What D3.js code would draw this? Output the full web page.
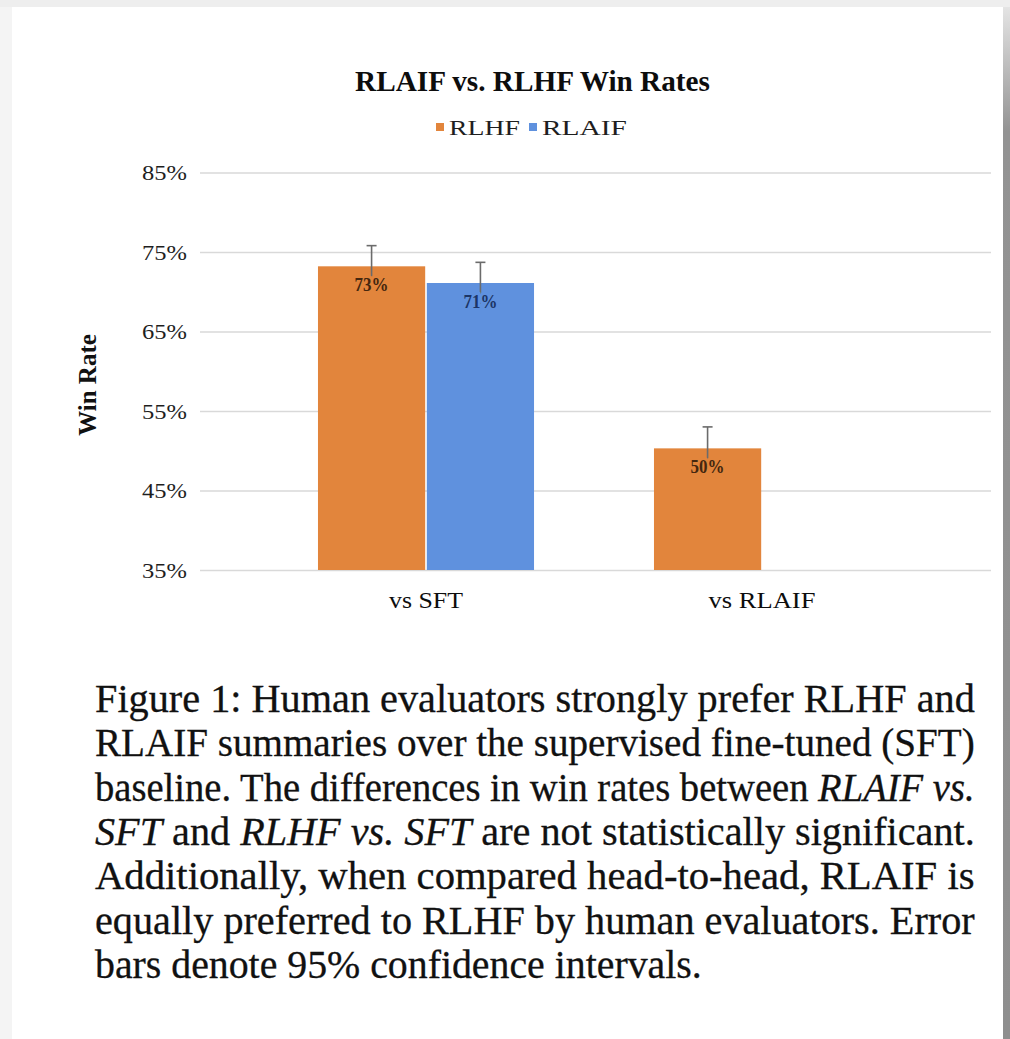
<!DOCTYPE html>
<html lang="en">
  <head>
    <meta charset="UTF-8" />
    <title>RLAIF vs. RLHF Win Rates</title>
    <script src="https://d3js.org/d3.v7.min.js"></script>
    <style>
      body {
        margin: 0;
        padding: 0;
        background: #f0f0f0;
      }
      svg {
        display: block;
        font-family: "Liberation Serif", "Times New Roman", serif;
      }
    </style>
  </head>
  <body>
    <svg width="1010" height="1039"></svg>
    <script>
      // values
      const categories = ["vs SFT", "vs RLAIF"];
      const seriesNames = ["RLHF", "RLAIF"];
      const rlhfValues = [0.732, 0.503];
      const rlaifValues = [0.711, null];
      const rlhfUpper = [0.758, 0.53];
      const rlaifUpper = [0.737, null];
      const yTicks = [0.35, 0.45, 0.55, 0.65, 0.75, 0.85];

      const captionLines = [
        [["Figure 1: Human evaluators strongly prefer RLHF and", false]],
        [["RLAIF summaries over the supervised fine-tuned (SFT)", false]],
        [["baseline. The differences in win rates between ", false], ["RLAIF vs.", true]],
        [["SFT", true], [" and ", false], ["RLHF vs. SFT", true], [" are not statistically significant.", false]],
        [["Additionally, when compared head-to-head, RLAIF is", false]],
        [["equally preferred to RLHF by human evaluators. Error", false]],
        [["bars denote 95% confidence intervals.", false]],
      ];

      const colors = { RLHF: "#E2853C", RLAIF: "#5F91DE" };
      const labelColors = { RLHF: "#45270f", RLAIF: "#1c3566" };

      const svg = d3.select("svg");

      // squeeze / stretch a text horizontally so it covers the given width
      function place(text, x, y, width) {
        const w = text.node().getComputedTextLength();
        text.attr("x", 0).attr("y", 0)
          .attr("transform", `translate(${x},${y}) scale(${width / w},1)`);
      }

      // page card + shadow
      const defs = svg.append("defs");
      const grad = defs.append("linearGradient")
        .attr("id", "shade").attr("x1", 0).attr("y1", 0).attr("x2", 0).attr("y2", 1);
      grad.append("stop").attr("offset", "0%").attr("stop-color", "#e4e4e4");
      grad.append("stop").attr("offset", "12%").attr("stop-color", "#939393");
      grad.append("stop").attr("offset", "100%").attr("stop-color", "#8e8e8e");

      svg.append("rect").attr("width", 1010).attr("height", 1039).attr("fill", "#eeeeee");
      svg.append("rect").attr("x", 0).attr("y", 7).attr("width", 12).attr("height", 1032).attr("fill", "#f4f4f4");
      svg.append("rect").attr("x", 1003).attr("y", 7).attr("width", 7).attr("height", 1032).attr("fill", "url(#shade)");
      svg.append("rect").attr("x", 12).attr("y", 7).attr("width", 991).attr("height", 1032).attr("fill", "#ffffff");

      // scales
      const gridLeft = 200, gridRight = 991;
      const y = d3.scaleLinear().domain([0.35, 0.85]).range([570, 172.5]);
      const x0 = d3.scaleBand().domain(categories).range([258, 930])
        .paddingInner(0.357).paddingOuter(0.1785);
      const x1 = d3.scaleBand().domain(seriesNames).range([0, x0.bandwidth()]).paddingInner(0.015);

      // y axis with gridlines
      const yAxis = svg.append("g")
        .attr("transform", `translate(${gridLeft},0)`)
        .call(d3.axisLeft(y).tickValues(yTicks).tickFormat(d3.format(".0%"))
          .tickSize(-(gridRight - gridLeft)).tickPadding(13));
      yAxis.select(".domain").remove();
      yAxis.selectAll(".tick line").attr("stroke", "#d9d9d9").attr("stroke-width", 1.6);
      yAxis.selectAll(".tick text")
        .attr("font-family", "Liberation Serif, serif")
        .attr("font-size", 22)
        .attr("fill", "#1e1e1e")
        .each(function () {
          const t = d3.select(this);
          place(t, -13, 0, 45);
          t.attr("dy", "0.34em");
        });

      // axis title
      svg.append("text")
        .attr("transform", "translate(96,385) rotate(-90)")
        .attr("text-anchor", "middle")
        .attr("font-size", 25)
        .attr("font-weight", "bold")
        .attr("fill", "#111")
        .text("Win Rate");

      // bars
      const rows = categories.map((c, i) => ({
        category: c,
        items: [
          { series: "RLHF", value: rlhfValues[i], upper: rlhfUpper[i] },
          { series: "RLAIF", value: rlaifValues[i], upper: rlaifUpper[i] },
        ].filter((d) => d.value !== null),
      }));

      const groups = svg.selectAll(".group")
        .data(rows)
        .enter()
        .append("g")
        .attr("class", "group")
        .attr("transform", (d) => `translate(${x0(d.category)},0)`);

      groups.selectAll("rect")
        .data((d) => d.items)
        .enter()
        .append("rect")
        .attr("x", (d) => x1(d.series))
        .attr("y", (d) => y(d.value))
        .attr("width", x1.bandwidth())
        .attr("height", (d) => y(0.35) - y(d.value))
        .attr("fill", (d) => colors[d.series]);

      // error bars (line runs into the bar, label halo hides the lower part)
      const err = groups.selectAll(".err")
        .data((d) => d.items)
        .enter()
        .append("g")
        .attr("class", "err")
        .attr("stroke", "#6b6b6b")
        .attr("stroke-width", 1.6);
      err.append("line")
        .attr("x1", (d) => x1(d.series) + x1.bandwidth() / 2)
        .attr("x2", (d) => x1(d.series) + x1.bandwidth() / 2)
        .attr("y1", (d) => y(d.upper))
        .attr("y2", (d) => y(2 * d.value - d.upper));
      err.append("line")
        .attr("x1", (d) => x1(d.series) + x1.bandwidth() / 2 - 5)
        .attr("x2", (d) => x1(d.series) + x1.bandwidth() / 2 + 5)
        .attr("y1", (d) => y(d.upper))
        .attr("y2", (d) => y(d.upper));

      // data labels
      groups.selectAll(".lbl")
        .data((d) => d.items)
        .enter()
        .append("text")
        .attr("class", "lbl")
        .attr("text-anchor", "middle")
        .attr("font-size", 18)
        .attr("font-weight", "bold")
        .attr("fill", (d) => labelColors[d.series])
        .attr("stroke", (d) => colors[d.series])
        .attr("stroke-width", 6)
        .attr("paint-order", "stroke")
        .text((d) => d3.format(".0%")(d.value))
        .each(function (d) {
          place(d3.select(this), x1(d.series) + x1.bandwidth() / 2, y(d.value) + 25, 34);
        });

      // category labels
      const catWidths = [74, 107];
      categories.forEach((c, i) => {
        const t = svg.append("text")
          .attr("text-anchor", "middle")
          .attr("font-size", 24)
          .attr("fill", "#0d0d0d")
          .text(c);
        place(t, x0(c) + x0.bandwidth() / 2, 608, catWidths[i]);
      });

      // title
      const title = svg.append("text")
        .attr("text-anchor", "middle")
        .attr("font-size", 29)
        .attr("font-weight", "bold")
        .attr("fill", "#0d0d0d")
        .text("RLAIF vs. RLHF Win Rates");
      place(title, 532.5, 91, 355);

      // legend
      const legendX = [436, 529];
      const legendW = [71, 85];
      seriesNames.forEach((s, i) => {
        svg.append("rect")
          .attr("x", legendX[i]).attr("y", 123)
          .attr("width", 8).attr("height", 8)
          .attr("fill", colors[s]);
        const t = svg.append("text")
          .attr("font-size", 21)
          .attr("fill", "#1e1e1e")
          .text(s);
        place(t, legendX[i] + 13, 135, legendW[i]);
      });

      // caption
      captionLines.forEach((parts, i) => {
        const t = svg.append("text")
          .attr("font-size", 40)
          .attr("fill", "#111")
          .attr("stroke", "#111")
          .attr("stroke-width", 0.3);
        parts.forEach(([str, it]) => {
          t.append("tspan")
            .attr("font-style", it ? "italic" : "normal")
            .text(str);
        });
        const width = i === captionLines.length - 1 ? 607 : 880;
        place(t, 95, 712 + i * 44.3, width);
      });
    </script>
  </body>
</html>
